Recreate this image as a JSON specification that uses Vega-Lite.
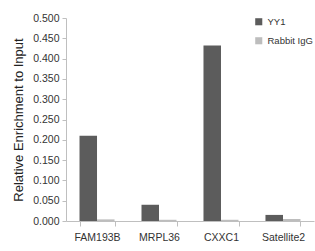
{
  "$schema": "https://vega.github.io/schema/vega-lite/v6.json",
  "width": 248,
  "height": 203,
  "autosize": {"type": "none"},
  "padding": {"left": 66, "top": 18, "right": 1, "bottom": 30},
  "background": "white",
  "config": {
    "view": {"stroke": null},
    "font": "Liberation Sans",
    "axis": {"domainColor": "#bfbfbf", "tickColor": "#bfbfbf", "labelColor": "#333333", "titleColor": "#222222", "labelFont": "Liberation Sans", "titleFont": "Liberation Sans"}
  },
  "data": {
    "values": [
      {"target": "FAM193B", "series": "YY1", "value": 0.21},
      {"target": "FAM193B", "series": "Rabbit IgG", "value": 0.004},
      {"target": "MRPL36", "series": "YY1", "value": 0.04},
      {"target": "MRPL36", "series": "Rabbit IgG", "value": 0.003},
      {"target": "CXXC1", "series": "YY1", "value": 0.432},
      {"target": "CXXC1", "series": "Rabbit IgG", "value": 0.003},
      {"target": "Satellite2", "series": "YY1", "value": 0.015},
      {"target": "Satellite2", "series": "Rabbit IgG", "value": 0.005}
    ]
  },
  "mark": {"type": "bar"},
  "encoding": {
    "x": {
      "field": "target", "type": "nominal", "sort": ["FAM193B", "MRPL36", "CXXC1", "Satellite2"],
      "scale": {"paddingInner": 0.435, "paddingOuter": 0.218},
      "axis": {"title": null, "labelAngle": 0, "tickBand": "extent", "tickSize": 5, "labelFontSize": 10.5, "labelPadding": 6, "domainWidth": 1}
    },
    "xOffset": {"field": "series", "type": "nominal", "sort": ["YY1", "Rabbit IgG"], "scale": {"paddingInner": 0, "paddingOuter": 0}},
    "y": {
      "field": "value", "type": "quantitative",
      "scale": {"domain": [0, 0.5], "nice": false},
      "axis": {"title": "Relative Enrichment to Input", "format": ".3f", "values": [0, 0.05, 0.1, 0.15, 0.2, 0.25, 0.3, 0.35, 0.4, 0.45, 0.5], "labelOverlap": false, "grid": false, "tickSize": 4, "labelFontSize": 10.5, "labelPadding": 3, "titleFontSize": 13, "titleFontWeight": "normal", "titlePadding": 7}
    },
    "color": {
      "field": "series", "type": "nominal", "sort": ["YY1", "Rabbit IgG"],
      "scale": {"domain": ["YY1", "Rabbit IgG"], "range": ["#5c5c5c", "#bdbdbd"]},
      "legend": {"title": null, "orient": "none", "legendX": 188, "legendY": -1, "symbolType": "square", "symbolSize": 50, "symbolStrokeWidth": 0, "labelFontSize": 9.5, "labelColor": "#333333", "rowPadding": 8, "labelOffset": 4}
    }
  }
}
